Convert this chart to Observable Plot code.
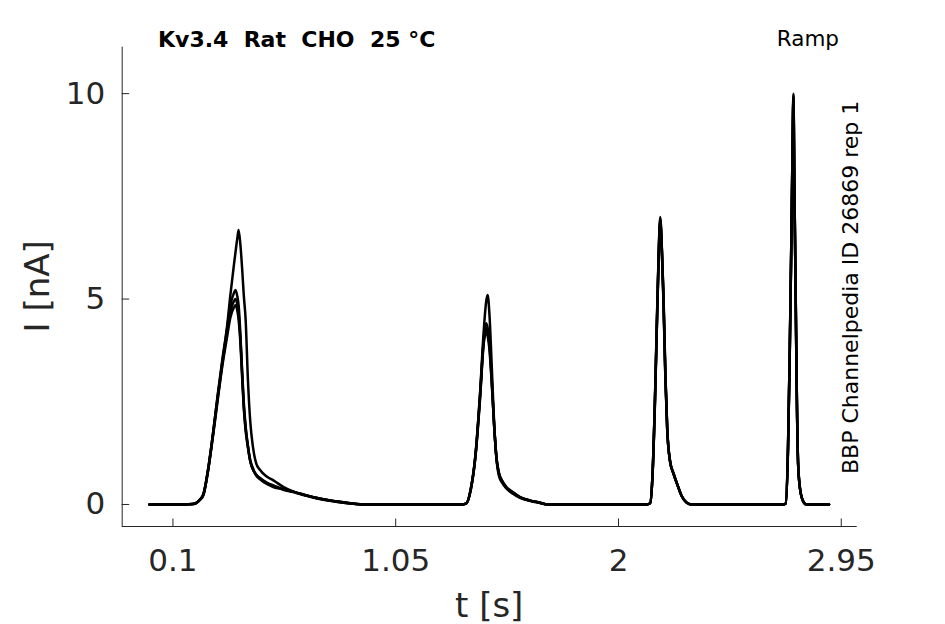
<!DOCTYPE html>
<html>
<head>
<meta charset="utf-8">
<script src="https://cdn.jsdelivr.net/npm/d3@7"></script>
<script src="https://cdn.jsdelivr.net/npm/@observablehq/plot@0.6"></script>
<style>
  html, body { margin: 0; padding: 0; background: #fff; }
  #chart { width: 945px; height: 624px; }
  svg { font-family: "DejaVu Sans", sans-serif; overflow: visible; }
</style>
</head>
<body>
<div id="chart"></div>
<script>
// ---- data ----
const title = "Kv3.4  Rat  CHO  25 °C";
const protocolLabel = "Ramp";
const sourceLabel = "BBP Channelpedia ID 26869 rep 1";
const xLabel = "t [s]";
const yLabel = "I [nA]";

const xTicks = [0.1, 1.05, 2, 2.95];
const xTickLabels = ["0.1", "1.05", "2", "2.95"];
const yTicks = [0, 5, 10];
const yTickLabels = ["0", "5", "10"];
const xDomain = [-0.1164, 3.018];
const yDomain = [-0.536, 11.13];

// time samples (s)
const time = [
  0, 0.15, 0.185, 0.2, 0.215, 0.23, 0.25, 0.27, 0.29, 0.31, 0.33, 0.345, 0.36, 0.367, 0.375, 0.38, 0.388, 0.395, 0.402, 0.41, 0.42, 0.43, 0.44, 0.455, 0.47, 0.5, 0.53, 0.57, 0.62, 0.67, 0.72, 0.77, 0.82, 0.87, 0.92,
  1.33, 1.35, 1.37, 1.39, 1.41, 1.425, 1.436, 1.442, 1.45, 1.46, 1.47, 1.48, 1.49, 1.505, 1.52, 1.55, 1.58, 1.62, 1.66, 1.70, 1.75,
  2.12, 2.135, 2.145, 2.155, 2.163, 2.17, 2.178, 2.185, 2.192, 2.2, 2.208, 2.22, 2.235, 2.25, 2.27, 2.29, 2.31,
  2.70, 2.713, 2.723, 2.73, 2.737, 2.742, 2.746, 2.75, 2.755, 2.76, 2.766, 2.775, 2.79, 2.80, 2.898
];

// current (nA) of each sweep at those times
const sweep1 = [
  0, 0, 0.01, 0.04, 0.12, 0.25, 0.85, 1.68, 2.63, 3.5, 4.3, 5.1, 5.83, 6.15, 6.5, 6.68, 6.3, 5.75, 5.1, 4.5, 3.0, 2.0, 1.45, 1.0, 0.85, 0.68, 0.58, 0.43, 0.3, 0.22, 0.15, 0.1, 0.06, 0.02, 0,
  0, 0.02, 0.35, 1.2, 2.75, 4.2, 4.95, 5.1, 4.6, 3.3, 1.95, 1.1, 0.7, 0.52, 0.4, 0.26, 0.16, 0.09, 0.04, 0, 0,
  0, 0.03, 0.7, 2.45, 4.3, 5.85, 7.0, 6.2, 5.1, 3.2, 1.85, 1.05, 0.74, 0.5, 0.2, 0.04, 0,
  0, 0.02, 1.4, 3.6, 6.4, 8.6, 10.0, 7.9, 5.46, 2.9, 1.0, 0.35, 0.05, 0, 0
];
const sweep2 = [
  0, 0, 0.01, 0.04, 0.12, 0.26, 0.87, 1.7, 2.6, 3.45, 4.25, 4.85, 5.15, 5.22, 5.05, 4.85, 4.1, 3.25, 2.5, 1.9, 1.42, 1.07, 0.9, 0.7, 0.62, 0.5, 0.42, 0.37, 0.3, 0.22, 0.15, 0.1, 0.06, 0.02, 0,
  0, 0.02, 0.38, 1.2, 2.7, 4.0, 4.41, 4.3, 3.95, 3.0, 1.9, 1.1, 0.75, 0.55, 0.42, 0.28, 0.17, 0.1, 0.05, 0, 0,
  0, 0.03, 0.72, 2.45, 4.25, 5.8, 6.95, 6.25, 5.0, 3.15, 1.8, 1.05, 0.74, 0.5, 0.2, 0.05, 0,
  0, 0.02, 1.4, 3.6, 6.35, 8.55, 9.95, 7.85, 5.45, 2.9, 1.0, 0.35, 0.05, 0, 0
];
const sweep3 = [
  0, 0, 0.01, 0.04, 0.11, 0.24, 0.84, 1.66, 2.55, 3.4, 4.15, 4.7, 4.95, 5.0, 4.85, 4.65, 4.0, 3.2, 2.4, 1.85, 1.4, 1.05, 0.87, 0.72, 0.64, 0.52, 0.45, 0.36, 0.29, 0.21, 0.14, 0.09, 0.05, 0.02, 0,
  0, 0.02, 0.37, 1.18, 2.65, 3.95, 4.3, 4.2, 3.85, 2.95, 1.9, 1.12, 0.76, 0.56, 0.43, 0.29, 0.18, 0.1, 0.05, 0, 0,
  0, 0.03, 0.7, 2.4, 4.2, 5.75, 6.9, 6.2, 4.95, 3.1, 1.8, 1.05, 0.75, 0.5, 0.2, 0.05, 0,
  0, 0.02, 1.38, 3.55, 6.3, 8.5, 9.9, 7.8, 5.4, 2.85, 1.0, 0.35, 0.05, 0, 0
];
const sweep4 = [
  0, 0, 0.01, 0.04, 0.11, 0.23, 0.82, 1.63, 2.5, 3.35, 4.05, 4.55, 4.8, 4.85, 4.7, 4.5, 3.9, 3.1, 2.35, 1.8, 1.38, 1.04, 0.86, 0.73, 0.65, 0.53, 0.46, 0.37, 0.3, 0.22, 0.15, 0.09, 0.05, 0.02, 0,
  0, 0.02, 0.36, 1.15, 2.6, 3.9, 4.2, 4.1, 3.75, 2.9, 1.88, 1.12, 0.78, 0.57, 0.44, 0.3, 0.18, 0.1, 0.05, 0, 0,
  0, 0.03, 0.68, 2.35, 4.15, 5.7, 6.85, 6.15, 4.9, 3.05, 1.8, 1.05, 0.75, 0.5, 0.2, 0.05, 0,
  0, 0.02, 1.36, 3.5, 6.25, 8.45, 9.85, 7.75, 5.35, 2.8, 0.98, 0.35, 0.05, 0, 0
];

const sweeps = [sweep1, sweep2, sweep3, sweep4];
const rows = sweeps.flatMap((s, k) => time.map((t, i) => ({t, I: s[i], sweep: k})));

const ink = "#262626";
const W = 945, H = 624;
const mL = 121.7, mR = 88.3, mT = 46.7, mB = 98;
const plotW = W - mL - mR, plotH = H - mT - mB;
const tickLen = 7.5;

const chart = Plot.plot({
  width: W,
  height: H,
  marginLeft: mL,
  marginRight: mR,
  marginTop: mT,
  marginBottom: mB,
  style: {fontFamily: "DejaVu Sans, sans-serif", background: "white", color: ink, overflow: "visible"},
  x: {domain: xDomain},
  y: {domain: yDomain},
  marks: [
    Plot.ruleX([xDomain[0]], {stroke: ink, strokeWidth: 1}),
    Plot.ruleY([yDomain[0]], {stroke: ink, strokeWidth: 1}),
    // inward tick marks
    Plot.tickX(xTicks, {x: d => d, stroke: ink, strokeWidth: 1, insetTop: plotH - tickLen}),
    Plot.tickY(yTicks, {y: d => d, stroke: ink, strokeWidth: 1, insetRight: plotW - tickLen}),
    Plot.axisX(xTicks, {
      anchor: "bottom", tickSize: 0, tickPadding: 22, fontSize: 31, label: null,
      tickFormat: d => xTickLabels[xTicks.indexOf(d)], fill: ink
    }),
    Plot.axisY(yTicks, {
      anchor: "left", tickSize: 0, tickPadding: 17, fontSize: 31, label: null,
      tickFormat: d => yTickLabels[yTicks.indexOf(d)], fill: ink
    }),
    Plot.line(rows, {x: "t", y: "I", z: "sweep", stroke: "black", strokeWidth: 2.5, curve: "monotone-x"})
  ]
});

document.getElementById("chart").appendChild(chart);

// annotations
const svg = d3.select(chart);
svg.append("text")
  .attr("x", 158).attr("y", 46.5)
  .attr("text-anchor", "start")
  .attr("font-size", 22).attr("font-weight", "bold").attr("fill", "black")
  .text(title);
svg.append("text")
  .attr("x", 839).attr("y", 46)
  .attr("text-anchor", "end")
  .attr("font-size", 21.5).attr("fill", "black")
  .text(protocolLabel);
svg.append("text")
  .attr("transform", "translate(858,474) rotate(-90)")
  .attr("text-anchor", "start")
  .attr("font-size", 22).attr("fill", "black")
  .text(sourceLabel);
svg.append("text")
  .attr("x", mL + plotW / 2).attr("y", 617)
  .attr("text-anchor", "middle")
  .attr("font-size", 34).attr("fill", ink)
  .text(xLabel);
svg.append("text")
  .attr("transform", `translate(49.3,${mT + plotH / 2}) rotate(-90)`)
  .attr("text-anchor", "middle")
  .attr("font-size", 34).attr("fill", ink)
  .text(yLabel);
</script>
</body>
</html>
